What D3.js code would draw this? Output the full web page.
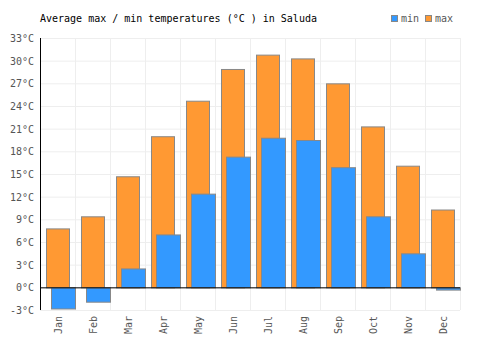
<!DOCTYPE html>
<html>
<head>
<meta charset="utf-8">
<script src="https://cdn.jsdelivr.net/npm/d3@7"></script>
<style>
  body { margin: 0; background: #fff; }
  text { font-family: "DejaVu Sans Mono", monospace; }
</style>
</head>
<body>
<script>
const WIDTH = 500;
const HEIGHT = 350;
const MARGIN = { top: 38, right: 40, bottom: 40, left: 40 };

const months = ["Jan", "Feb", "Mar", "Apr", "May", "Jun", "Jul", "Aug", "Sep", "Oct", "Nov", "Dec"];
const maxTemps = [7.8, 9.4, 14.7, 20.0, 24.7, 28.9, 30.8, 30.3, 27.0, 21.3, 16.1, 10.3];
const minTemps = [-2.8, -1.9, 2.5, 7.0, 12.4, 17.3, 19.8, 19.5, 15.9, 9.4, 4.5, -0.3];
const yTicks = [-3, 0, 3, 6, 9, 12, 15, 18, 21, 24, 27, 30, 33];

const svg = d3.select("body")
    .append("svg")
    .attr("width", WIDTH)
    .attr("height", HEIGHT);

const x = d3.scaleBand()
    .domain(months)
    .range([MARGIN.left, WIDTH - MARGIN.right]);

const y = d3.scaleLinear()
    .domain([-3, 33])
    .range([HEIGHT - MARGIN.bottom, MARGIN.top]);

// grid
svg.append("g")
    .selectAll("line")
    .data(yTicks)
    .join("line")
    .attr("x1", MARGIN.left)
    .attr("x2", WIDTH - MARGIN.right)
    .attr("y1", (d) => y(d) + 0.5)
    .attr("y2", (d) => y(d) + 0.5)
    .attr("stroke", "#eeeeee");

svg.append("g")
    .selectAll("line")
    .data(months.slice(1).concat(["end"]))
    .join("line")
    .attr("x1", (d, i) => x(months[i]) + x.bandwidth() + 0.5)
    .attr("x2", (d, i) => x(months[i]) + x.bandwidth() + 0.5)
    .attr("y1", MARGIN.top)
    .attr("y2", HEIGHT - MARGIN.bottom)
    .attr("stroke", "#eeeeee");

// bars: max behind, min in front
svg.append("g")
    .selectAll("rect")
    .data(maxTemps)
    .join("rect")
    .attr("x", (d, i) => x(months[i]) + 6.5)
    .attr("width", 23)
    .attr("y", (d) => y(Math.max(d, 0)) + 0.5)
    .attr("height", (d) => Math.abs(y(d) - y(0)))
    .attr("fill", "#ff9933")
    .attr("stroke", "#888888");

svg.append("g")
    .selectAll("rect")
    .data(minTemps)
    .join("rect")
    .attr("x", (d, i) => x(months[i]) + 11.5)
    .attr("width", 24)
    .attr("y", (d) => y(Math.max(d, 0)) + 0.5)
    .attr("height", (d) => Math.abs(y(d) - y(0)))
    .attr("fill", "#3399ff")
    .attr("stroke", "#888888");

// axes lines
svg.append("line")
    .attr("x1", MARGIN.left + 0.5)
    .attr("x2", MARGIN.left + 0.5)
    .attr("y1", MARGIN.top)
    .attr("y2", HEIGHT - MARGIN.bottom)
    .attr("stroke", "#000");

svg.append("line")
    .attr("x1", MARGIN.left)
    .attr("x2", WIDTH - MARGIN.right)
    .attr("y1", y(0) + 0.5)
    .attr("y2", y(0) + 0.5)
    .attr("stroke", "#000");

// y labels
svg.append("g")
    .selectAll("text")
    .data(yTicks)
    .join("text")
    .attr("x", MARGIN.left - 6)
    .attr("y", (d) => y(d) + 4)
    .attr("text-anchor", "end")
    .attr("font-size", 10)
    .attr("fill", "#555")
    .text((d) => d + "°C");

// x labels
svg.append("g")
    .selectAll("text")
    .data(months)
    .join("text")
    .attr("transform", (d) => `translate(${x(d) + x.bandwidth() / 2 + 4} ${HEIGHT - MARGIN.bottom + 6}) rotate(-90)`)
    .attr("text-anchor", "end")
    .attr("font-size", 10)
    .attr("fill", "#555")
    .text((d) => d);

// title
svg.append("text")
    .attr("x", 40)
    .attr("y", 22)
    .attr("font-size", 10)
    .attr("fill", "#000")
    .text("Average max / min temperatures (°C ) in Saluda");

// legend
const legend = [["min", "#3399ff", 391], ["max", "#ff9933", 425]];
const lg = svg.append("g")
    .selectAll("g")
    .data(legend)
    .join("g");
lg.append("rect")
    .attr("x", (d) => d[2] + 0.5)
    .attr("y", 15.5)
    .attr("width", 6)
    .attr("height", 6)
    .attr("fill", (d) => d[1])
    .attr("stroke", "#888");
lg.append("text")
    .attr("x", (d) => d[2] + 10)
    .attr("y", 22)
    .attr("font-size", 10)
    .attr("fill", "#555")
    .text((d) => d[0]);
</script>
</body>
</html>
